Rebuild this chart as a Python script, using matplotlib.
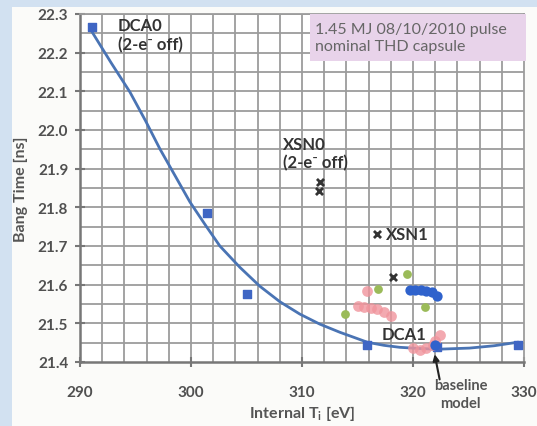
import numpy as np
import matplotlib
matplotlib.use("Agg")
import matplotlib.pyplot as plt
from matplotlib.patches import Rectangle
from matplotlib.ticker import MultipleLocator, FormatStrFormatter

plt.rcParams["font.family"] = ["Lato", "DejaVu Sans"]

# ── data ─────────────────────────────────────────────────────────────────
sq_x = [291.1, 301.4, 305.0, 315.9, 322.2, 329.5]          # blue squares
sq_y = [22.266, 21.785, 21.577, 21.445, 21.44, 21.445]

fit_x = [291.1, 292.8, 294.5, 295.9, 297.2, 298.6, 299.9, 301.3, 302.6,
         304.4, 306.2, 308.0, 309.8, 311.6, 313.4, 315.9, 317.4, 318.8,
         320.5, 322.2, 325.1, 327.3, 329.4]                 # trend line
fit_y = [22.253, 22.174, 22.098, 22.024, 21.951, 21.880, 21.814, 21.754,
         21.700, 21.645, 21.596, 21.556, 21.524, 21.498, 21.477, 21.451,
         21.443, 21.438, 21.435, 21.433, 21.436, 21.442, 21.451]

xsn_x = [311.6, 311.5, 316.8, 318.2]                        # x markers
xsn_y = [21.865, 21.843, 21.731, 21.62]

grn_x = [319.5, 316.85, 313.9, 321.1]                       # green dots
grn_y = [21.627, 21.588, 21.524, 21.542]

pnk_x = [315.9, 315.0, 315.6, 316.2, 316.8, 317.4, 318.0,
         320.0, 320.6, 321.2, 321.8, 322.4, 322.0]          # pink dots
pnk_y = [21.583, 21.545, 21.542, 21.54, 21.538, 21.53, 21.52,
         21.435, 21.432, 21.436, 21.445, 21.47, 21.455]

blu_x = [319.7, 320.2, 320.7, 321.2, 321.7, 322.2, 322.0]   # blue circles
blu_y = [21.585, 21.585, 21.585, 21.583, 21.58, 21.57, 21.445]

fig = plt.figure(figsize=(5.37, 4.27), dpi=100, facecolor="#d2e1f1")
fig.patches.append(Rectangle((12 / 537, 0), 1, 1 - 8 / 427,
                             transform=fig.transFigure,
                             facecolor="#fbfbf9", edgecolor="none", zorder=-5))
ax = fig.add_axes([80 / 537, 64 / 427, 444 / 537, 348 / 427])
ax.set_facecolor("white")

# grid: every 2 eV and every 0.05 ns
for gx in np.arange(292, 330, 2):
    ax.axvline(gx, color="#9c9c9c", lw=1.3, zorder=1)
for gy in np.arange(21.45, 22.3, 0.05):
    ax.axhline(gy, color="#9c9c9c", lw=1.3, zorder=1)

ax.plot(fit_x, fit_y, color="#4a74b4", lw=2, zorder=3)
ax.scatter(sq_x, sq_y, marker="s", s=36, color="#3f66c4", zorder=4)
ax.scatter(pnk_x, pnk_y, s=60, color="#f0949c", alpha=0.8, lw=0, zorder=4)
ax.scatter(grn_x, grn_y, s=40, color="#9bbb59", lw=0, zorder=4)
ax.scatter(blu_x, blu_y, s=55, color="#2f62cc", lw=0, zorder=5)
ax.scatter(xsn_x, xsn_y, marker="x", s=26, color="#333333", lw=2, zorder=6)

ax.set_xlim(290, 330)
ax.set_ylim(21.4, 22.3)
ax.xaxis.set_major_locator(MultipleLocator(10))
ax.yaxis.set_major_locator(MultipleLocator(0.1))
ax.yaxis.set_major_formatter(FormatStrFormatter("%.1f"))
ax.tick_params(which="major", direction="inout", length=7, width=1.5,
               color="#777777", labelsize=11, labelcolor="#505050")
ax.tick_params(axis="y", pad=5)
ax.tick_params(axis="x", pad=13)
for side in ("left", "bottom"):
    ax.spines[side].set_color("#777777")
    ax.spines[side].set_linewidth(1.8)
for side in ("top", "right"):
    ax.spines[side].set_color("#9c9c9c")
    ax.spines[side].set_linewidth(1.3)
for lab in ax.get_xticklabels() + ax.get_yticklabels():
    lab.set_fontweight("bold")

ax.set_ylabel("Bang Time [ns]", fontsize=11.5, color="#555555",
              fontweight="bold", labelpad=7)
ax.set_xlabel("Internal T$_\\mathregular{i}$ [eV]", fontsize=11.5,
              color="#555555", fontweight="bold", labelpad=3)

txt = dict(fontsize=12, fontweight="bold", color="#333333", zorder=7)
ax.text(293.4, 22.246, "DCA0\n(2-e\u207b off)", va="center", linespacing=1.2, **txt)
ax.text(308.3, 21.94, "XSN0\n(2-e\u207b off)", va="center", linespacing=1.2, **txt)
ax.text(317.6, 21.731, "XSN1", va="center", **txt)
ax.text(317.2, 21.472, "DCA1", va="center", **txt)

# pink info box in the top-right corner
ax.add_patch(Rectangle((310.7, 22.178), 19.5, 0.122, facecolor="#e8d3ea",
                       edgecolor="none", zorder=6, clip_on=False))
ax.text(311.2, 22.239, "1.45 MJ 08/10/2010 pulse\nnominal THD capsule",
        fontsize=11.5, color="#666666", va="center", linespacing=1.25,
        zorder=7)

ax.text(324.3, 21.317, "baseline\nmodel", fontsize=10.5, color="#555555",
        fontweight="bold", ha="center", va="center", linespacing=1.3,
        clip_on=False, zorder=7)
ax.annotate("", xy=(321.95, 21.42), xytext=(322.4, 21.355),
            annotation_clip=False, zorder=7,
            arrowprops=dict(arrowstyle="-|>", color="#222222", lw=1.5,
                            shrinkA=0, shrinkB=0, mutation_scale=9))

fig.savefig("out.png", dpi=100, facecolor=fig.get_facecolor())
